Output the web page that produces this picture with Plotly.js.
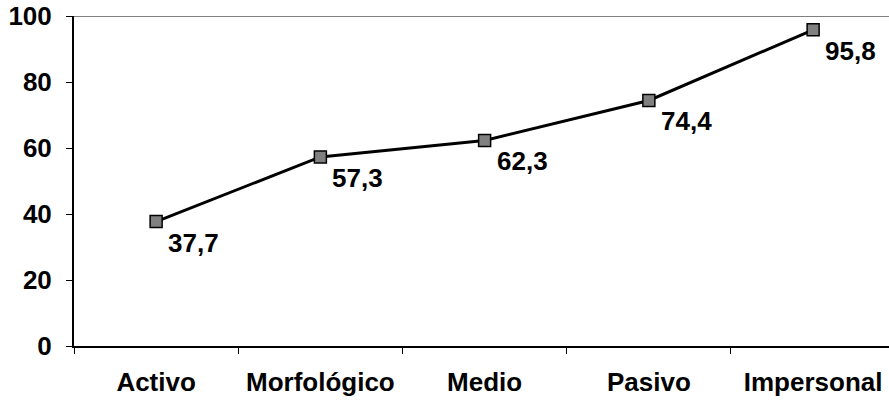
<!DOCTYPE html>
<html>
<head>
<meta charset="utf-8">
<script src="https://cdn.plot.ly/plotly-3.0.1.min.js"></script>
<style>
  html, body { margin: 0; padding: 0; background: #fff; }
  #chart { width: 889px; height: 400px; }
</style>
</head>
<body>
<div id="chart"></div>
<script>
// Percentages per voice category
const categories = ['Activo', 'Morfológico', 'Medio', 'Pasivo', 'Impersonal'];
const values = [37.7, 57.3, 62.3, 74.4, 95.8];
const valueLabels = ['37,7', '57,3', '62,3', '74,4', '95,8'];
const yTicks = [0, 20, 40, 60, 80, 100];

const FONT = 'Arial, "Liberation Sans", sans-serif';
const FS = 26;

const trace = {
  x: categories,
  y: values,
  type: 'scatter',
  mode: 'lines+markers',
  line: { color: '#000000', width: 3 },
  marker: {
    symbol: 'square',
    size: 12,
    color: '#808080',
    line: { color: '#000000', width: 1.5 }
  },
  hoverinfo: 'skip',
  cliponaxis: false
};

// Value labels sit below and to the right of each marker
const annotations = categories.map((c, i) => ({
  x: c,
  y: values[i],
  xref: 'x',
  yref: 'y',
  text: valueLabels[i],
  showarrow: false,
  xanchor: 'left',
  yanchor: 'middle',
  xshift: 10,
  yshift: -21,
  font: { family: FONT, size: FS, color: '#000000', weight: 'bold' }
}));

const layout = {
  width: 889,
  height: 400,
  margin: { l: 74, r: 0, t: 16, b: 54 },
  paper_bgcolor: '#ffffff',
  plot_bgcolor: '#ffffff',
  showlegend: false,
  font: { family: FONT, color: '#000000' },
  xaxis: {
    type: 'category',
    range: [-0.5, 4.462],
    showgrid: false,
    zeroline: false,
    showline: true,
    linecolor: '#000000',
    linewidth: 2,
    ticks: 'outside',
    tickson: 'boundaries',
    ticklen: 6,
    tickwidth: 1,
    tickcolor: '#000000',
    ticklabelstandoff: 12,
    tickfont: { family: FONT, size: FS, color: '#000000', weight: 'bold' }
  },
  yaxis: {
    range: [0, 100],
    tickvals: yTicks,
    ticktext: yTicks.map(String),
    showgrid: false,
    zeroline: false,
    showline: true,
    linecolor: '#000000',
    linewidth: 2,
    ticks: 'outside',
    ticklen: 6,
    tickwidth: 1,
    tickcolor: '#000000',
    ticklabelstandoff: 9,
    tickfont: { family: FONT, size: FS, color: '#000000', weight: 'bold' }
  },
  shapes: [{
    type: 'line',
    xref: 'paper', yref: 'y',
    x0: 0, x1: 1, y0: 100, y1: 100,
    line: { color: '#808080', width: 2 },
    layer: 'below'
  }],
  annotations: annotations
};

Plotly.newPlot('chart', [trace], layout, { displayModeBar: false, staticPlot: true });
</script>
</body>
</html>
